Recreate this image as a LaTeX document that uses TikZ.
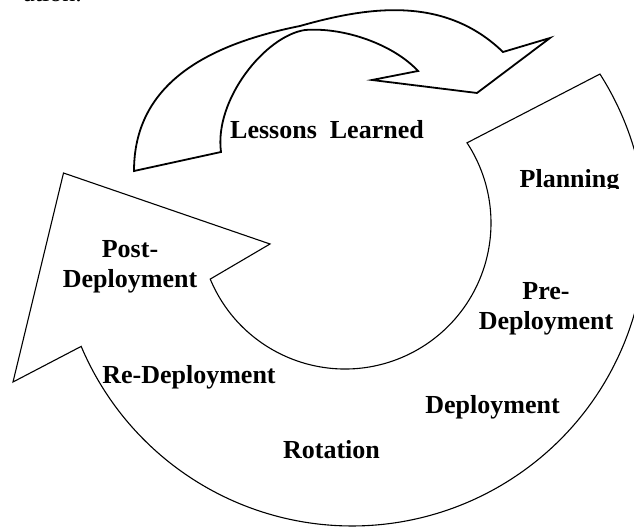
\documentclass[tikz,border=0pt]{standalone}
\usepackage{fontspec}
\setmainfont{Liberation Serif}
\usetikzlibrary{calc}
\begin{document}
\begin{tikzpicture}
	[	x=1pt,y=1pt,
	band/.style={draw=black,line width=1.8pt,line join=miter},
	ring/.style={draw=black,line width=1.1pt,line join=miter},
	phase/.style={draw=none,fill=none,inner sep=0pt,align=center,anchor=base,
		font=\bfseries\fontsize{26}{30}\selectfont}
	]
	\useasboundingbox (0,0) rectangle (634,527);
	\coordinate (co) at (352,295);
	\coordinate (ci) at (345,304);

	% curved arrow on top
	\draw[band] (134,356) .. controls (134,442) and (205,482) .. (300,501)
		.. controls (370,521) and (445,531) .. (503,475)
		-- (550,489) -- (477,434) -- (372,447) -- (418,456)
		.. controls (394,482) and (345,500) .. (305,497)
		.. controls (265,491) and (214,427) .. (221,375) -- cycle;

	% circular arrow
	\draw[ring] ($(co)+(32.5:294)$) arc[start angle=32.5,end angle=-157.1,radius=294]
		-- (13,145) -- (63.5,354) -- (270,283)
		-- ($(ci)+(-157.4:146)$) arc[start angle=-157.4,end angle=33.3,radius=146] -- cycle;

	\node[phase,anchor=base east,font=\fontsize{26}{30}\selectfont] (top) at (82,525){ation.};
	\node[phase] (lessons) at (327,388){Lessons\ \ Learned};
	\begin{scope}
		\clip (500,338) rectangle (634,400);
		\node[phase] (planning) at (569.5,339){Planning};
	\end{scope}
	\node[phase] (pre) at (546,197){Pre-\\Deployment};
	\node[phase] (deploy) at (492.5,113){Deployment};
	\node[phase] (rotation) at (331.5,68){Rotation};
	\node[phase] (redeploy) at (189,143){Re-Deployment};
	\node[phase] (post) at (130,239){Post-\\Deployment};
\end{tikzpicture}
\end{document}
